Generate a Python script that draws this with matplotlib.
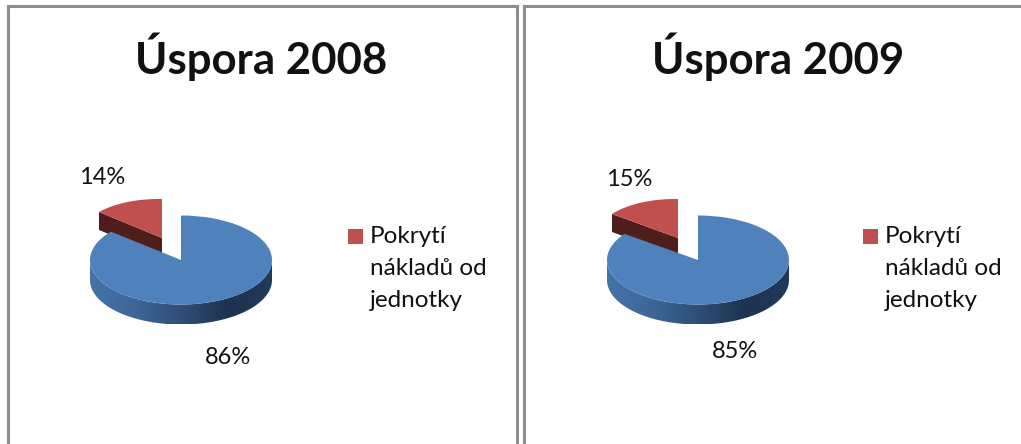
"""plot.py - two 3D-looking pie charts side by side."""
import numpy as np
import matplotlib
matplotlib.use("Agg")
import matplotlib.pyplot as plt
from matplotlib.colors import LinearSegmentedColormap
from matplotlib.patches import PathPatch, Polygon, Rectangle
from matplotlib.path import Path
from matplotlib.transforms import Affine2D

W, H = 1021, 444
plt.rcParams["font.family"] = ["Lato", "DejaVu Sans"]

titles = ["Úspora 2008", "Úspora 2009"]
shares = [[86, 14], [85, 15]]
legend_label = "Pokrytí\nnákladů od\njednotky"
colors = ["#4f81bd", "#c0504d"]
side_red = "#4f1e1c"
frame_color = "#8e8e8e"

# pixel layout of each panel
panels = [
    dict(x0=8.2, x1=516.5, cx=181, title_x=261.5, label_px=[(228, 357), (102, 177)],
         red_off=(-19, -22), red_edge=(-63, -26), legend_x=348),
    dict(x0=524.3, x1=1040, cx=698, title_x=778, label_px=[(735, 351), (629, 179)],
         red_off=(-20, -22), red_edge=(-66, -24), legend_x=863),
]
cy, rx, ry, depth = 260, 91, 44.5, 20
red_depth, red_len = 18, 39
top_y = 6

side_cmap = LinearSegmentedColormap.from_list(
    "side", ["#4673a8", "#3d6696", "#2f4f78", "#1e3350", "#213a5a"])

fig = plt.figure(figsize=(W / 100, H / 100), dpi=100)

for title, vals, p in zip(titles, shares, panels):
    ax = fig.add_axes([p["x0"] / W, 0, (p["x1"] - p["x0"]) / W, (H - top_y) / H])

    wedges, texts, autos = ax.pie(vals, colors=colors, startangle=90, counterclock=False,
                                  autopct="%.0f%%", frame=True,
                                  wedgeprops=dict(linewidth=0),
                                  textprops=dict(fontsize=17, color="#111111"))

    # data limits: one unit is the pie radius, stretched into an ellipse
    ax.set_aspect("auto")
    xlim = ((p["x0"] - p["cx"]) / rx, (p["x1"] - p["cx"]) / rx)
    ylim = ((cy - H) / ry, (cy - top_y) / ry)
    ax.set_xlim(xlim)
    ax.set_ylim(ylim)

    def to_data(px, py):
        return (px - p["cx"]) / rx, (cy - py) / ry

    blue, red = wedges
    dz = depth / ry

    # red slice is pulled out and slightly sheared (perspective)
    ang = np.deg2rad(vals[1] / 100 * 360)
    ex, ey = p["red_edge"]
    sy = red_len / ry
    sx = (-ex / rx) / np.sin(ang)
    shear = (sy * np.cos(ang) + ey / ry) / np.sin(ang)
    ox, oy = p["red_off"][0] / rx, -p["red_off"][1] / ry
    red.set_transform(Affine2D.from_values(sx, shear, 0, sy, ox, oy) + ax.transData)
    red.set_zorder(2)
    edge = (ox + ex / rx, oy - ey / ry)
    rd = red_depth / ry
    ax.add_patch(Polygon([(ox, oy), edge, (edge[0], edge[1] - rd), (ox, oy - rd)],
                         closed=True, fc=side_red, ec="none", zorder=1.5))

    # blue rim: the part of the big slice that faces the viewer
    t = np.linspace(np.pi, 2 * np.pi, 120)
    rim = np.r_[np.c_[np.cos(t), np.sin(t)], np.c_[np.cos(t[::-1]), np.sin(t[::-1]) - dz]]
    clip = PathPatch(Path(np.r_[rim, rim[:1]], closed=True), fc="none", ec="none",
                     transform=ax.transData)
    ax.add_patch(clip)
    grad = ax.imshow(np.linspace(0, 1, 256)[None, :], cmap=side_cmap, aspect="auto",
                     extent=(-1, 1, -1 - dz, 0), zorder=3)
    grad.set_clip_path(clip)
    ax.set_xlim(xlim)
    ax.set_ylim(ylim)
    blue.set_zorder(4)

    for txt, (lx, ly) in zip(autos, p["label_px"]):
        txt.set_position(to_data(lx, ly))
        txt.set_zorder(6)

    ax.set_xticks([])
    ax.set_yticks([])
    ax.spines["bottom"].set_visible(False)
    for side in ("left", "right", "top"):
        ax.spines[side].set_color(frame_color)
        ax.spines[side].set_linewidth(2.2)

    tx, ty = to_data(p["title_x"], 57)
    ax.text(tx, ty, title, fontsize=31.5, fontweight="bold", color="#111111",
            ha="center", va="center", zorder=6)

    # legend is laid out by hand so the marker sits on the first line
    lx0, ly0 = to_data(p["legend_x"], 244)
    ax.add_patch(Rectangle((lx0, ly0), 15 / rx, 15 / ry, fc=colors[1], ec="none", zorder=6))
    tx, ty = to_data(p["legend_x"] + 22, 226)
    ax.text(tx, ty, legend_label, fontsize=17.5, color="#111111", ha="left", va="top",
            linespacing=1.66, zorder=6)

fig.savefig("out.png", dpi=100)
print("wrote out.png")
